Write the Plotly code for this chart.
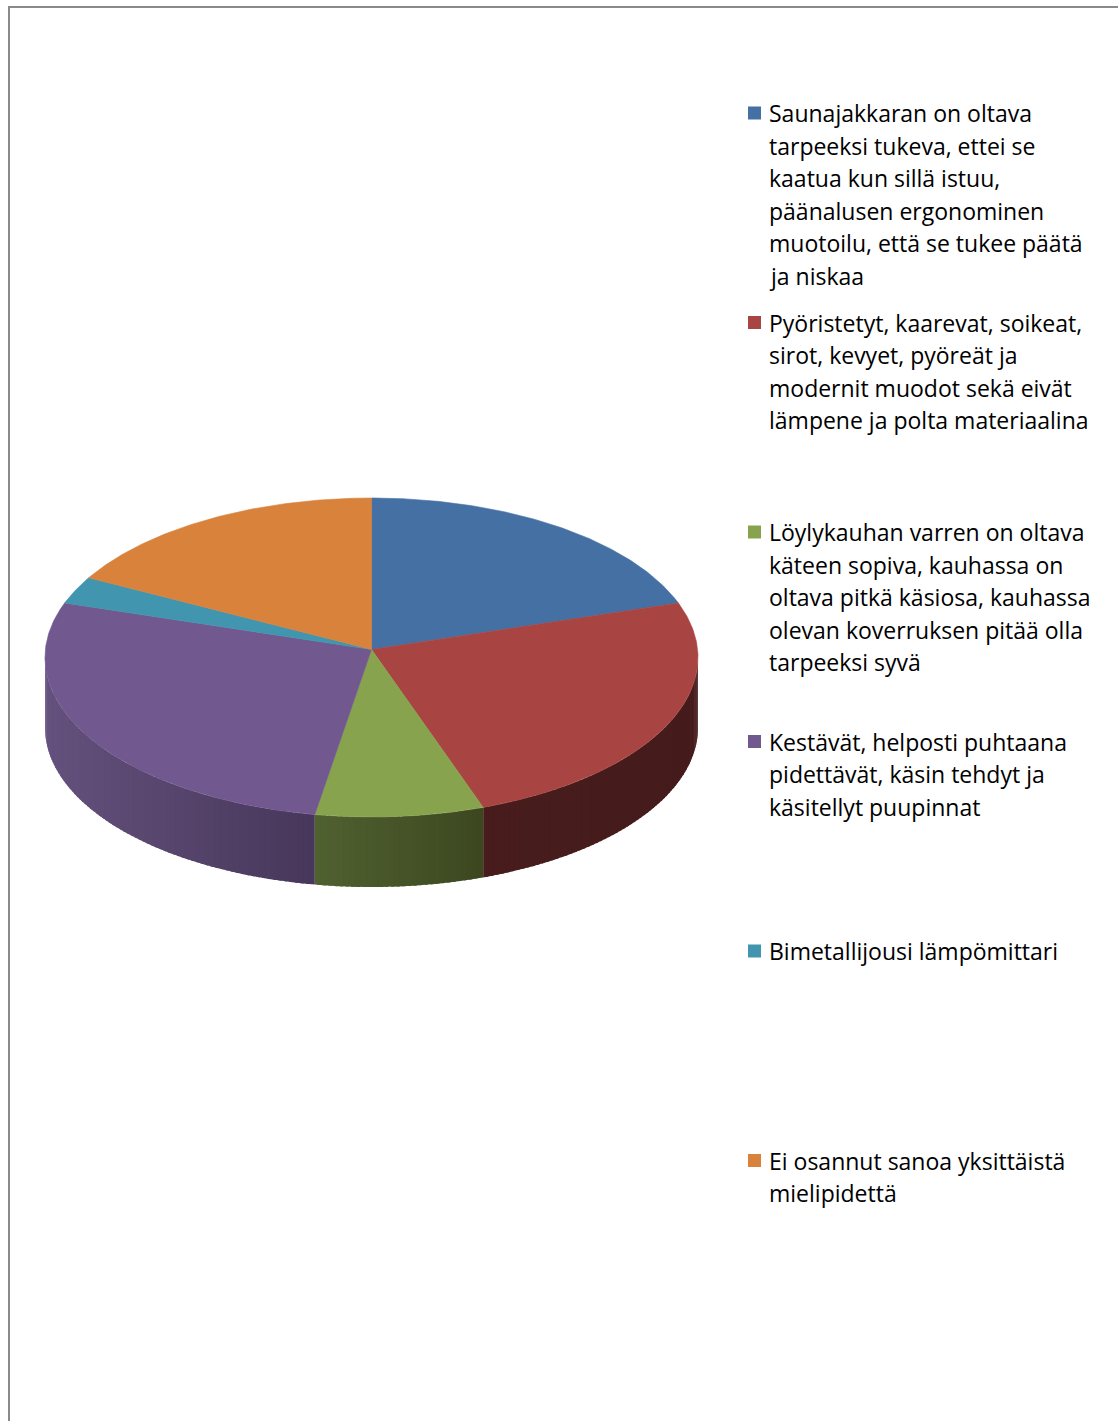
import numpy as np
import plotly.graph_objects as go

# ---------------- data ----------------
categories = [
    "Saunajakkaran on oltava<br>tarpeeksi tukeva, ettei se<br>kaatua kun sillä istuu,<br>päänalusen ergonominen<br>muotoilu, että se tukee päätä<br>ja niskaa",
    "Pyöristetyt, kaarevat, soikeat,<br>sirot, kevyet, pyöreät ja<br>modernit muodot sekä eivät<br>lämpene ja polta materiaalina",
    "Löylykauhan varren on oltava<br>käteen sopiva, kauhassa on<br>oltava pitkä käsiosa, kauhassa<br>olevan koverruksen pitää olla<br>tarpeeksi syvä",
    "Kestävät, helposti puhtaana<br>pidettävät, käsin tehdyt ja<br>käsitellyt puupinnat",
    "Bimetallijousi lämpömittari",
    "Ei osannut sanoa yksittäistä<br>mielipidettä",
]
values = [7, 9, 3, 10, 1, 6]

# ---------------- styles ----------------
top_colors = ["#4470A3", "#A84543", "#88A34E", "#71588E", "#4195AE", "#D8823C"]
side_left = ["#2c4a6c", "#481c1c", "#506130", "#64517d", "#2a6374", "#8f5426"]
side_right = ["#22395a", "#451b1b", "#3c4720", "#47375a", "#1f4c59", "#74431d"]

W, H = 1118, 1421
CX, CY = 371.5, 657.5      # centre of top ellipse (px)
RX, RY = 326.5, 159.5      # radii of top ellipse (px)
APEX_Y = 649.5             # apparent centre of slices (perspective)
DEPTH = 70                 # thickness of the pie (px)
FONT = "Open Sans"
FS = 23
LEG_X_SQ, LEG_X_TXT = 754.5, 767
LEG_Y0, LEG_STEP, LINE_STEP = 113, 209.5, 32.5


def ell(theta_deg, dy=0.0):
    t = np.radians(theta_deg)
    return CX + RX * np.sin(t), CY + dy - RY * np.cos(t)


def mix(c1, c2, f):
    a = [int(c1[i:i + 2], 16) for i in (1, 3, 5)]
    b = [int(c2[i:i + 2], 16) for i in (1, 3, 5)]
    return "#" + "".join(f"{round(a[k] + (b[k] - a[k]) * f):02x}" for k in range(3))


fig = go.Figure()
total = float(sum(values))
angles = np.concatenate([[0.0], np.cumsum(values) / total * 360.0])

# ---- sides (only front half visible) ----
for i in range(len(values)):
    a = max(angles[i], 90.0)
    b = min(angles[i + 1], 270.0)
    if a >= b:
        continue
    n = max(2, int(np.ceil((b - a) / 1.0)))
    edges = np.linspace(a, b, n + 1)
    xa, _ = ell(a)
    xb, _ = ell(b)
    for k in range(n):
        t0 = edges[k]
        t1 = min(edges[k + 1] + 0.6, b)  # slight overlap to hide seams
        ts = np.linspace(t0, t1, 4)
        xt, yt = ell(ts)
        xbt, ybt = ell(ts[::-1], DEPTH)
        xs = np.concatenate([xt, xbt, xt[:1]])
        ys = np.concatenate([yt, ybt, yt[:1]])
        xm, _ = ell((edges[k] + edges[k + 1]) / 2)
        f = (xm - xb) / (xa - xb) if xa != xb else 0.5
        col = mix(side_left[i], side_right[i], f)
        fig.add_trace(go.Scatter(
            x=xs, y=ys, mode="lines", fill="toself", fillcolor=col,
            line=dict(width=0), hoverinfo="skip", showlegend=False))

# ---- top faces ----
for i in range(len(values)):
    ts = np.linspace(angles[i], angles[i + 1], max(3, int((angles[i + 1] - angles[i]) * 2)))
    xt, yt = ell(ts)
    xs = np.concatenate([[CX], xt, [CX]])
    ys = np.concatenate([[APEX_Y], yt, [APEX_Y]])
    fig.add_trace(go.Scatter(
        x=xs, y=ys, mode="lines", fill="toself", fillcolor=top_colors[i],
        line=dict(color=top_colors[i], width=0.6),
        name=categories[i].replace("<br>", " "), hoveron="fills",
        hoverinfo="name", showlegend=False))

# ---- legend (squares + wrapped text) ----
for i, lab in enumerate(categories):
    y0 = LEG_Y0 + i * LEG_STEP
    fig.add_trace(go.Scatter(
        x=[LEG_X_SQ], y=[y0], mode="markers",
        marker=dict(symbol="square", size=13, color=top_colors[i], line=dict(width=0)),
        hoverinfo="skip", showlegend=False))
    for j, line in enumerate(lab.split("<br>")):
        fig.add_annotation(
            x=LEG_X_TXT, y=y0 + j * LINE_STEP, xref="x", yref="y", text=line,
            showarrow=False, xanchor="left", yanchor="middle",
            font=dict(family=FONT, size=FS, color="#000000"))

# ---- chart border ----
fig.add_shape(type="rect", xref="x", yref="y", x0=9, y0=7, x1=W + 40, y1=H + 40,
              line=dict(color="#8a8a8a", width=2), fillcolor="rgba(0,0,0,0)", layer="below")

fig.update_layout(
    width=W, height=H, margin=dict(l=0, r=0, t=0, b=0),
    paper_bgcolor="white", plot_bgcolor="white",
    xaxis=dict(range=[0, W], visible=False, fixedrange=True),
    yaxis=dict(range=[H, 0], visible=False, fixedrange=True),
    showlegend=False,
)

fig.write_html("out.html")
